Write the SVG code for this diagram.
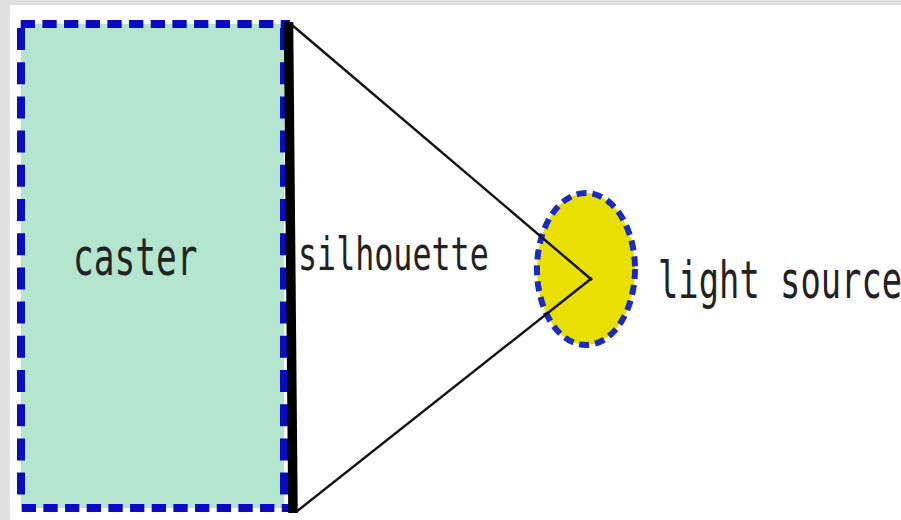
<svg xmlns="http://www.w3.org/2000/svg" width="901" height="520" viewBox="0 0 901 520">
  <style>
    .lbl { font-family: "DejaVu Sans Mono", "Liberation Mono", monospace; fill: #222222; }
    .edge { stroke: #0a0ac4; stroke-width: 8; fill: none; }
    .h { stroke-dasharray: 14.3 7.37; }
    .v { stroke-dasharray: 22 12.2; }
    .ray { stroke: #111; stroke-width: 2.4; fill: none; }
  </style>
  <rect x="0" y="0" width="901" height="520" fill="#e0e0e0"/>
  <rect x="10" y="5" width="891" height="515" fill="#ffffff"/>

  <g id="caster">
    <rect x="21" y="24" width="263" height="484" fill="#b3e5cf"/>
    <path class="edge h" d="M20.7,24 H290"/>
    <path class="edge h" d="M21.7,508 H290"/>
    <path class="edge v" d="M21,28 V500"/>
    <path class="edge v" d="M284,28 V504"/>
    <text class="lbl" font-size="34.5" transform="translate(73,275) scale(1,1.5)">caster</text>
  </g>

  <g id="silhouette">
    <path d="M288.5,22 L293,513" stroke="#000" stroke-width="9.5" fill="none"/>
    <text class="lbl" font-size="31.7" transform="translate(298,270) scale(1,1.48)">silhouette</text>
  </g>

  <g id="light-source">
    <ellipse cx="586" cy="269" rx="49" ry="76" fill="#e8e000" stroke="#1a2cc0" stroke-width="6" stroke-dasharray="10 6"/>
    <text class="lbl" font-size="33.8" transform="translate(658,298) scale(1,1.55)">light source</text>
  </g>

  <g id="connectors">
    <path class="ray" d="M292,25 L592,280"/>
    <path class="ray" d="M592,278 L296,512"/>
  </g>
</svg>
